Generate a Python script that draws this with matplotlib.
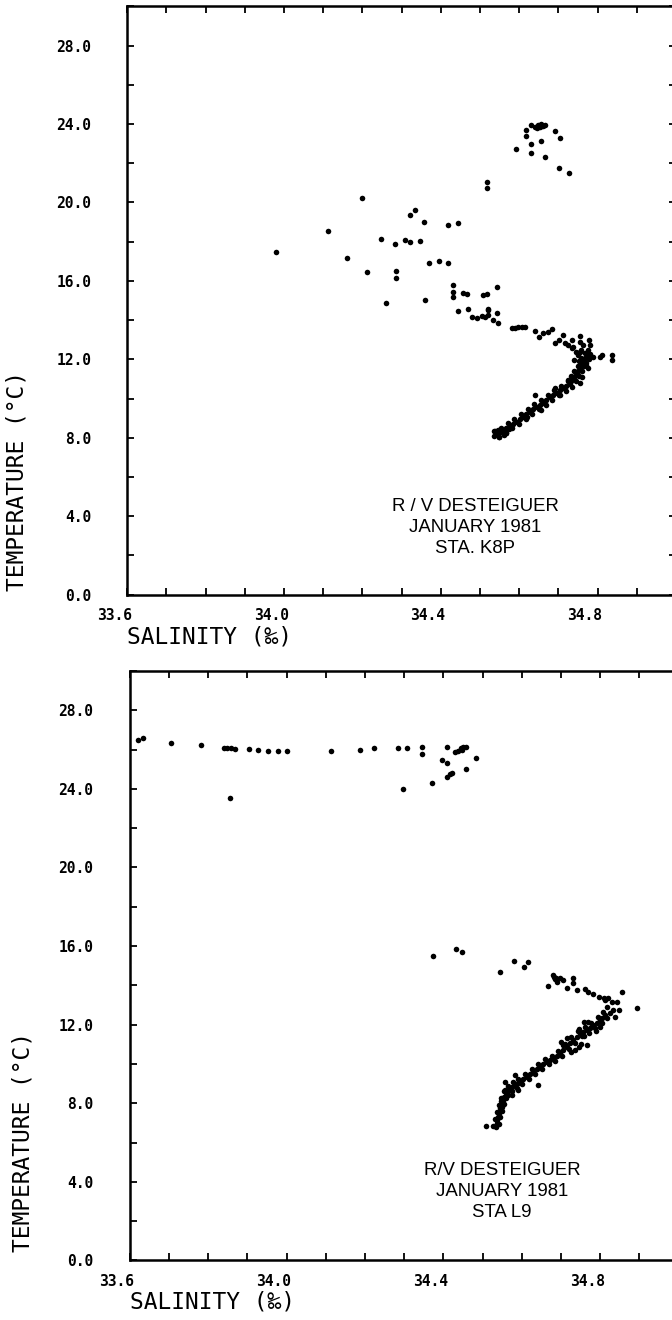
import matplotlib
matplotlib.use("Agg")
import matplotlib.pyplot as plt
import matplotlib.transforms as mtransforms
from matplotlib.ticker import MultipleLocator, FixedLocator

# --- Station K8P : salinity / temperature pairs ---
k8p_sal = [
    34.629, 34.640, 34.648, 34.655, 34.661, 34.666, 34.644, 34.653,
    34.617, 34.616, 34.691, 34.704, 34.630, 34.655, 34.592, 34.629, 34.666, 34.702, 34.726,
    34.518, 34.518,
    34.200, 34.113, 33.979, 34.161, 34.211, 34.261, 34.248, 34.284, 34.308, 34.322, 34.346,
    34.321, 34.334, 34.358, 34.419, 34.443, 34.285, 34.285, 34.370, 34.396, 34.419, 34.359,
    34.432, 34.432, 34.432, 34.444,
    34.457, 34.467, 34.507, 34.518, 34.544, 34.470, 34.521,
    34.479, 34.491, 34.504, 34.513, 34.521, 34.521, 34.534, 34.542, 34.546,
    34.581, 34.589, 34.597, 34.606, 34.615,
    34.640, 34.651, 34.661, 34.674, 34.683,
    34.691, 34.702, 34.712, 34.717, 34.725, 34.734, 34.738, 34.755, 34.755, 34.762, 34.779,
    34.780, 34.776,
    34.755, 34.772, 34.789, 34.806, 34.810, 34.836, 34.836,
    # main branch
    34.542, 34.559, 34.576, 34.593, 34.610, 34.627, 34.644, 34.661, 34.678, 34.695, 34.712,
    34.729, 34.738, 34.746, 34.755, 34.759, 34.763, 34.772,
    34.550, 34.567, 34.584, 34.601, 34.618, 34.635, 34.652, 34.669, 34.686, 34.703, 34.720,
    34.733, 34.742, 34.750, 34.757, 34.761, 34.767,
    34.536, 34.553, 34.570, 34.587, 34.604, 34.621, 34.638, 34.655, 34.672, 34.689, 34.706,
    34.723, 34.732, 34.740, 34.749, 34.753, 34.757,
    34.548, 34.565, 34.582, 34.599, 34.616, 34.633, 34.650, 34.667, 34.684, 34.701, 34.718,
    34.735, 34.744, 34.752, 34.761, 34.765, 34.769, 34.778,
    34.535, 34.548, 34.560, 34.552, 34.538, 34.566, 34.575, 34.545,
    34.745, 34.750, 34.758, 34.768, 34.780, 34.770, 34.775, 34.740, 34.735, 34.760, 34.755,
    34.723, 34.705, 34.690, 34.640, 34.655, 34.620,
]
k8p_temp = [
    23.95, 23.87, 23.95, 24.01, 23.90, 23.95, 23.79, 23.87,
    23.70, 23.39, 23.65, 23.28, 22.97, 23.14, 22.73, 22.54, 22.31, 21.74, 21.52,
    21.06, 20.76,
    20.21, 18.53, 17.47, 17.15, 16.47, 14.87, 18.15, 17.88, 18.07, 17.98, 18.02,
    19.36, 19.60, 19.02, 18.87, 18.94, 16.51, 16.13, 16.91, 17.00, 16.91, 15.03,
    15.81, 15.43, 15.19, 14.48,
    15.37, 15.35, 15.28, 15.32, 15.70, 14.55, 14.57,
    14.14, 14.09, 14.21, 14.17, 14.52, 14.26, 14.01, 14.35, 13.84,
    13.58, 13.61, 13.66, 13.63, 13.66,
    13.44, 13.12, 13.33, 13.41, 13.53,
    12.85, 12.98, 13.24, 12.82, 12.73, 12.98, 12.64, 13.19, 12.90, 12.73, 12.98,
    12.73, 12.47,
    12.39, 12.22, 12.13, 12.10, 12.22, 12.22, 11.96,
    8.19, 8.39, 8.60, 8.82, 9.07, 9.33, 9.58, 9.79, 10.06, 10.30, 10.52,
    10.74, 11.03, 11.29, 11.54, 11.80, 11.96, 12.13,
    8.29, 8.50, 8.71, 8.95, 9.20, 9.46, 9.69, 9.93, 10.18, 10.41, 10.63,
    10.88, 11.16, 11.42, 11.67, 11.88, 12.05,
    8.32, 8.52, 8.73, 8.95, 9.20, 9.46, 9.71, 9.92, 10.19, 10.43, 10.65,
    10.87, 11.16, 11.42, 11.67, 11.93, 12.09,
    8.06, 8.26, 8.47, 8.69, 8.94, 9.20, 9.45, 9.66, 9.93, 10.17, 10.39,
    10.61, 10.90, 11.16, 11.41, 11.67, 11.83, 12.00,
    8.10, 8.05, 8.12, 8.28, 8.32, 8.25, 8.42, 8.40,
    12.35, 12.20, 12.45, 12.30, 12.25, 11.70, 11.55, 11.95, 12.60, 11.10, 10.80,
    10.95, 10.20, 10.55, 10.18, 9.40, 9.05,
]

# --- Station L9 ---
l9_sal = [
    33.621, 33.634, 33.706, 33.781, 33.841, 33.849, 33.859, 33.868, 33.904, 33.927, 33.953,
    33.978, 34.002, 34.114, 34.187, 34.223, 34.284, 34.308, 34.346, 34.346, 33.855, 34.297,
    34.409, 34.430, 34.438, 34.444, 34.451, 34.458, 34.447, 34.483, 34.396, 34.409, 34.458,
    34.409, 34.417, 34.421, 34.372,
    34.373, 34.432, 34.447, 34.545, 34.581, 34.607, 34.617,
    34.668, 34.679, 34.685, 34.691, 34.698, 34.706, 34.715, 34.730, 34.730, 34.740, 34.762,
    34.770, 34.783, 34.796, 34.809, 34.855, 34.893, 34.683, 34.688,
    34.813, 34.821, 34.830, 34.842, 34.817, 34.834, 34.847, 34.825, 34.838,
    # main branch
    34.534, 34.538, 34.543, 34.549, 34.553, 34.560, 34.570, 34.583, 34.596, 34.613, 34.630,
    34.647, 34.664, 34.681, 34.698, 34.715, 34.732, 34.749, 34.766, 34.783, 34.800, 34.813,
    34.536, 34.540, 34.546, 34.551, 34.556, 34.565, 34.576, 34.590, 34.604, 34.621, 34.638,
    34.655, 34.672, 34.690, 34.706, 34.723, 34.740, 34.757, 34.774, 34.791, 34.806,
    34.527, 34.531, 34.536, 34.542, 34.546, 34.554, 34.565, 34.578, 34.591, 34.608, 34.625,
    34.642, 34.659, 34.676, 34.693, 34.710, 34.727, 34.744, 34.761, 34.778, 34.795, 34.808,
    34.541, 34.545, 34.550, 34.556, 34.561, 34.566, 34.575, 34.588, 34.601, 34.618, 34.635,
    34.652, 34.669, 34.686, 34.703, 34.720, 34.737, 34.754, 34.771, 34.788, 34.805, 34.818,
    34.725, 34.735, 34.745, 34.750, 34.766, 34.758, 34.770, 34.705, 34.700, 34.715, 34.745,
    34.760, 34.790, 34.800, 34.583, 34.557, 34.557, 34.642, 34.509, 34.575, 34.590, 34.548,
    34.545,
]
l9_temp = [
    26.49, 26.58, 26.35, 26.23, 26.10, 26.10, 26.07, 26.05, 26.03, 25.96, 25.94,
    25.91, 25.91, 25.91, 25.98, 26.07, 26.08, 26.10, 26.15, 25.76, 23.52, 23.99,
    26.15, 25.86, 25.94, 26.07, 26.12, 26.12, 25.98, 25.56, 25.47, 25.30, 25.03,
    24.62, 24.74, 24.79, 24.30,
    15.50, 15.84, 15.72, 14.70, 15.24, 14.95, 15.21,
    13.98, 14.53, 14.31, 14.19, 14.36, 14.27, 13.85, 14.36, 14.14, 13.77, 13.80,
    13.68, 13.56, 13.42, 13.34, 13.65, 12.87, 14.45, 14.40,
    13.26, 13.34, 13.17, 13.17, 12.92, 12.75, 12.75, 12.58, 12.41,
    6.81, 7.15, 7.49, 7.83, 8.17, 8.51, 8.76, 8.93, 9.10, 9.35, 9.61,
    9.86, 10.12, 10.29, 10.54, 10.88, 11.22, 11.56, 11.73, 11.98, 12.24, 12.49,
    6.98, 7.32, 7.66, 8.00, 8.34, 8.63, 8.85, 9.01, 9.22, 9.48, 9.73,
    9.99, 10.20, 10.41, 10.71, 11.05, 11.39, 11.64, 11.85, 12.11, 12.36,
    6.85, 7.20, 7.55, 7.90, 8.25, 8.62, 8.88, 9.06, 9.23, 9.48, 9.74,
    9.99, 10.25, 10.42, 10.67, 11.01, 11.35, 11.69, 11.86, 12.11, 12.37, 12.62,
    6.95, 7.30, 7.62, 7.95, 8.28, 8.40, 8.63, 8.80, 8.97, 9.22, 9.48,
    9.73, 9.99, 10.16, 10.41, 10.75, 11.09, 11.43, 11.60, 11.85, 12.11, 12.36,
    10.60, 10.70, 10.85, 11.00, 10.97, 12.15, 12.15, 10.95, 11.10, 11.30, 11.80,
    11.40, 11.70, 11.90, 9.44, 9.10, 8.68, 8.93, 6.84, 8.40, 8.65, 8.10,
    7.75,
]

x_labels = [33.6, 34.0, 34.4, 34.8]
y_labels = [0.0, 4.0, 8.0, 12.0, 16.0, 20.0, 24.0, 28.0]
captions = [
    "R / V DESTEIGUER\nJANUARY 1981\nSTA. K8P",
    "R/V DESTEIGUER\nJANUARY 1981\nSTA L9",
]
caption_pos = [(34.487, 3.42), (34.550, 3.49)]

mono = ["DejaVu Sans Mono", "DejaVu Sans"]

fig = plt.figure(figsize=(6.72, 13.2), dpi=100)
ax1 = fig.add_axes([0.1894, 0.5496, 0.8167, 0.4455])
ax2 = fig.add_axes([0.1930, 0.0451, 0.8167, 0.4466])

panels = [
    (ax1, k8p_sal, k8p_temp, (-110, 4)),
    (ax2, l9_sal, l9_temp, (-107, 8)),
]
shift = mtransforms.ScaledTranslation(-0.13, 0, fig.dpi_scale_trans)

for i, (ax, sal, temp, tlab) in enumerate(panels):
    ax.plot(sal, temp, "o", color="black", markersize=4.0, markeredgewidth=0)
    ax.set_xlim(33.6, 35.0)
    ax.set_ylim(0, 30)

    ax.xaxis.set_major_locator(FixedLocator(x_labels))
    ax.xaxis.set_minor_locator(MultipleLocator(0.1))
    ax.yaxis.set_major_locator(FixedLocator(y_labels))
    ax.yaxis.set_minor_locator(MultipleLocator(2.0))
    ax.set_xticklabels([f"{v:.1f}" for v in x_labels])
    ax.set_yticklabels([f"{v:.1f}" for v in y_labels])

    ax.tick_params(which="both", direction="in", top=True, right=True,
                   length=5, width=1.3, color="black")
    ax.tick_params(axis="x", which="major", pad=9.5)
    ax.tick_params(axis="y", which="major", pad=26)
    for lab in ax.get_xticklabels() + ax.get_yticklabels():
        lab.set_family(mono)
        lab.set_fontweight("bold")
        lab.set_fontsize(10.5)
    for tick in ax.xaxis.get_major_ticks():
        tick.label1.set_transform(tick.label1.get_transform() + shift)

    for sp in ax.spines.values():
        sp.set_linewidth(1.8)

    ax.annotate("SALINITY (‰)", xy=(0, 0), xycoords="axes fraction",
                xytext=(0, -42), textcoords="offset pixels",
                ha="left", va="center", family=mono, fontsize=16.5)
    ax.annotate("TEMPERATURE (°C)", xy=(0, 0), xycoords="axes fraction",
                xytext=tlab, textcoords="offset pixels", rotation=90,
                ha="center", va="bottom", family=mono, fontsize=16.5)

    cx, cy = caption_pos[i]
    ax.text(cx, cy, captions[i], ha="center", va="center",
            family="Liberation Sans", fontsize=13.4, linespacing=1.3)

fig.savefig("out.png", dpi=100)
